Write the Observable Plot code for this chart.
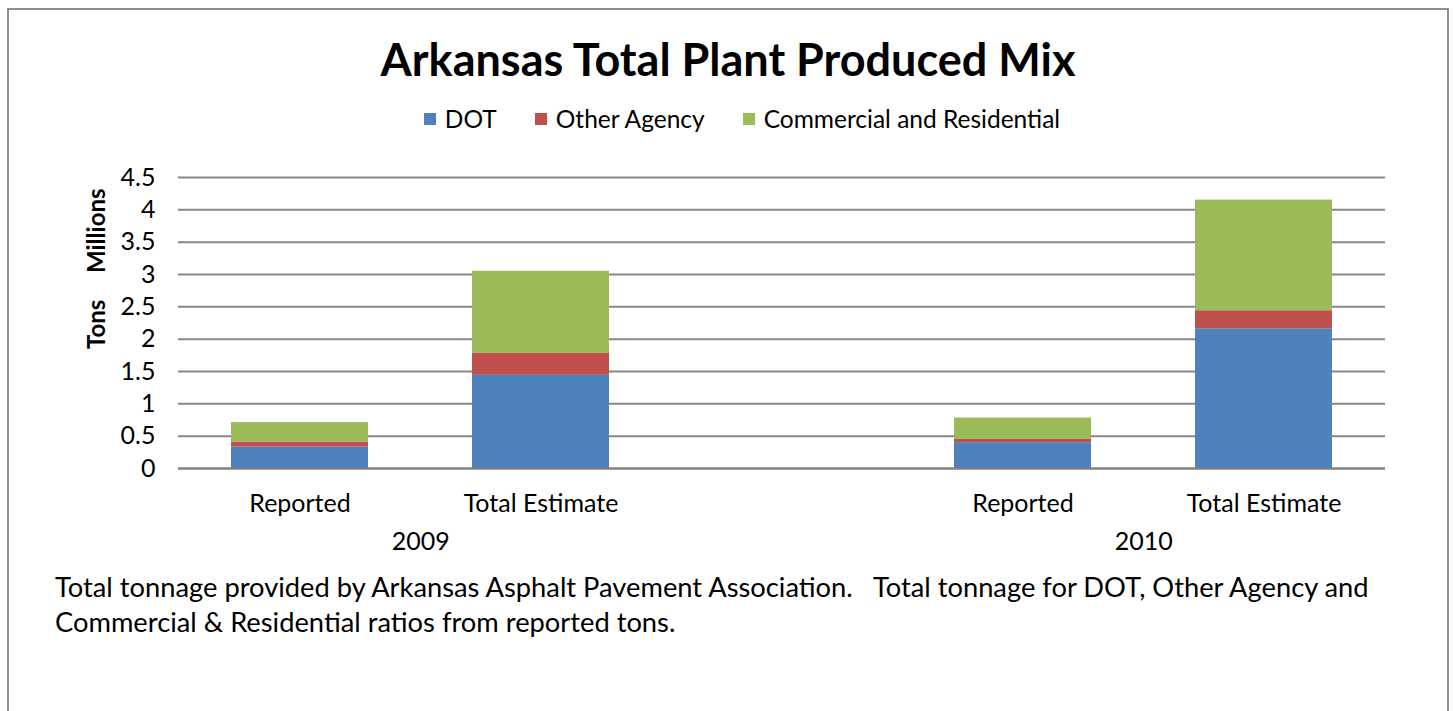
<!DOCTYPE html>
<html><head><meta charset="utf-8">
<script src="https://cdn.jsdelivr.net/npm/d3@7"></script>
<script src="https://cdn.jsdelivr.net/npm/@observablehq/plot@0.6"></script>
<style>
body{margin:0;background:#fff;font-family:Lato,"Open Sans",sans-serif;width:1453px;height:711px;overflow:hidden;position:relative;color:#000}
#frame{position:absolute;left:7px;top:8px;width:1438px;height:760px;border:2px solid #8c8c8c;}
#title{position:absolute;left:7px;width:1442px;top:33px;text-align:center;font-weight:bold;font-size:45px;line-height:52px}
#legend{position:absolute;left:21px;width:1442px;top:104px;display:flex;justify-content:center;gap:38px;font-size:24.5px;line-height:30px}
#legend .it{display:flex;align-items:center}
#legend .sw{width:12px;height:12px;margin-right:9px}
#chart{position:absolute;left:0;top:150px}
#caption{position:absolute;left:55px;top:569px;font-size:27.3px;line-height:35px;width:1380px;white-space:nowrap}
</style></head>
<body>
<div id="frame"></div>
<div id="title">Arkansas Total Plant Produced Mix</div>
<div id="legend"></div>
<div id="chart"></div>
<div id="caption">Total tonnage provided by Arkansas Asphalt Pavement Association.&nbsp;&nbsp; Total tonnage for DOT, Other Agency and<br>Commercial &amp; Residential ratios from reported tons.</div>
<script>
const years = ["2009", "2010"];
const kinds = ["Reported", "Total Estimate"];
const categories = ["2009|Reported", "2009|Total Estimate", "gap", "2010|Reported", "2010|Total Estimate"];
const barCategories = ["2009|Reported", "2009|Total Estimate", "2010|Reported", "2010|Total Estimate"];
const series = ["DOT", "Other Agency", "Commercial and Residential"];
const colors = ["#4F81BD", "#C0504D", "#9BBB59"];
const dotValues = [0.33, 1.44, 0.40, 2.16];
const otherValues = [0.08, 0.34, 0.05, 0.28];
const commercialValues = [0.30, 1.27, 0.33, 1.71];
const yTicks = [0, 0.5, 1, 1.5, 2, 2.5, 3, 3.5, 4, 4.5];

const valuesBySeries = [dotValues, otherValues, commercialValues];
const data = [];
series.forEach((s, i) => barCategories.forEach((c, j) => data.push({series: s, cat: c, value: valuesBySeries[i][j]})));

// legend
const legend = document.getElementById("legend");
series.forEach((s, i) => {
  const it = document.createElement("div"); it.className = "it";
  const sw = document.createElement("div"); sw.className = "sw"; sw.style.background = colors[i];
  const t = document.createElement("span"); t.textContent = s;
  it.append(sw, t); legend.append(it);
});

const W = 1453, H = 410, ML = 178, MR = 68, MT = 27, MB = 92;
const step = (W - ML - MR) / categories.length;

const plot = Plot.plot({
  width: W, height: H,
  marginLeft: ML, marginRight: MR, marginTop: MT, marginBottom: MB,
  style: {fontFamily: "Lato, 'Open Sans', sans-serif", fontSize: "25px", color: "#000", background: "transparent"},
  x: {domain: categories, paddingInner: 0.43, paddingOuter: 0.215, axis: null},
  y: {domain: [0, 4.5], axis: null},
  color: {domain: series, range: colors},
  marks: [
    Plot.ruleY(yTicks, {stroke: "#878787", strokeWidth: 2}),
    Plot.barY(data, {x: "cat", y: "value", fill: "series"}),
    Plot.ruleY([0], {stroke: "#808080", strokeWidth: 2}),
    Plot.axisY({ticks: yTicks, tickSize: 0, tickPadding: 23, tickFormat: d => String(d), fontSize: 25, label: null}),
    Plot.axisX({tickSize: 0, tickPadding: 26, tickFormat: d => d.split("|")[1] ?? "", fontSize: 25, label: null}),
    Plot.text(years, {x: d => d + "|Reported", frameAnchor: "bottom", dx: step / 2, dy: 81, text: d => d, fontSize: 25}),
    Plot.text(["Tons"], {frameAnchor: "left", rotate: -90, textAnchor: "start", dx: -81, dy: 26, text: d => d, fontWeight: "bold", fontSize: 24}),
    Plot.text(["Millions"], {frameAnchor: "left", rotate: -90, textAnchor: "start", dx: -81, dy: -50, text: d => d, fontWeight: "bold", fontSize: 24})
  ]
});
document.getElementById("chart").append(plot);
</script>
</body></html>
